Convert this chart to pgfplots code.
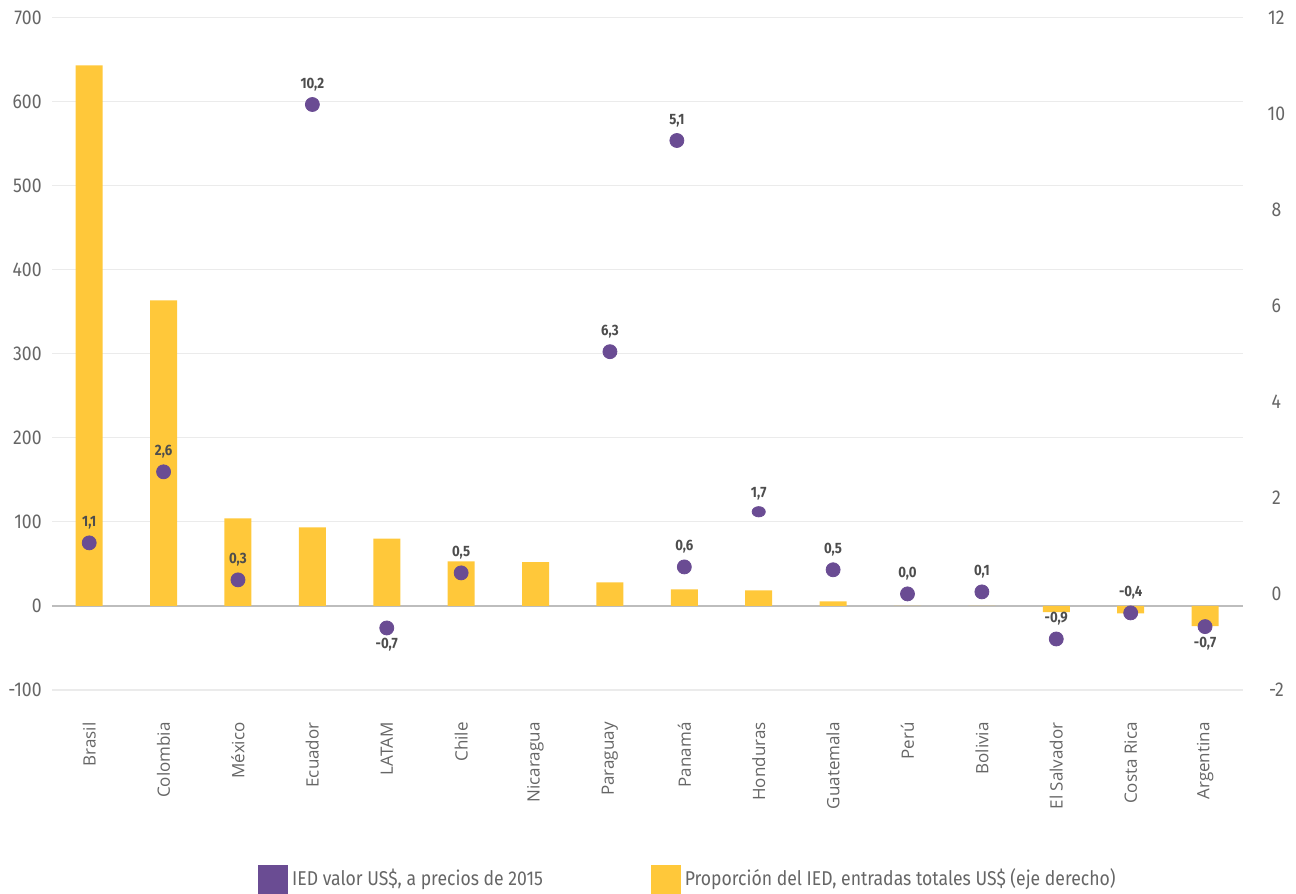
\documentclass[border=0pt]{standalone}
\usepackage{fontspec}
\setmainfont{Open Sans}
\newfontfamily\dinfont{Fira Sans}[FakeStretch=0.88]
\newfontfamily\tickfont{Open Sans}
\usepackage{pgfplots}
\pgfplotsset{compat=1.18}

\definecolor{ied}{HTML}{6A4C93}
\definecolor{prop}{HTML}{FFC83A}
\definecolor{txt}{HTML}{666666}
\definecolor{lab}{HTML}{4D4D4D}
\definecolor{gridc}{HTML}{EBEBEB}
\definecolor{zeroc}{HTML}{BDBDBD}

\begin{document}
\begin{tikzpicture}
\useasboundingbox (-26pt,-102pt) rectangle (622pt,345pt);
\begin{axis}[
  scale only axis, width=595.5pt, height=336.3pt,
  xmin=-0.5, xmax=15.51, ymin=-100, ymax=700,
  axis line style={draw=none}, tick style={draw=none},
  ytick={-100,0,...,700},
  ymajorgrids, grid style={draw=gridc, line width=0.6pt},
  extra y ticks={0}, extra y tick labels={},
  extra y tick style={grid=major, major grid style={draw=zeroc, line width=0.8pt}},
  /pgf/number format/assume math mode=true,
  yticklabel style={font=\dinfont\fontsize{10}{12}\selectfont, color=txt, inner sep=0pt, xshift=-5pt},
  xtick={0,...,15},
  xticklabels={Brasil,Colombia,México,Ecuador,LATAM,Chile,Nicaragua,Paraguay,Panamá,Honduras,Guatemala,Perú,Bolivia,El Salvador,Costa Rica,Argentina},
  xticklabel style={yshift=-16pt, rotate=90, anchor=east, inner sep=0pt, font=\tickfont\fontsize{8.5}{10}\selectfont, color=txt},
  legend columns=2,
  legend style={at={(0.173,-0.281)}, anchor=west, draw=none, fill=none, inner sep=0pt,
    font=\dinfont\fontsize{10}{12}\selectfont, text=txt,
    /tikz/column 2/.style={column sep=52pt}},
  lbl/.style={point meta=explicit symbolic, nodes near coords,
    nodes near coords style={anchor=center, inner sep=0pt,
      font=\dinfont\bfseries\fontsize{7.5}{9}\selectfont, color=lab}},
]
\addlegendimage{legend image code/.code={\fill[ied] (0pt,-7pt) rectangle (14.5pt,7pt);}}
\addlegendentry{IED valor US\$, a precios de 2015}
\addlegendimage{legend image code/.code={\fill[prop] (0pt,-7pt) rectangle (14.5pt,7pt);}}
\addlegendentry{Proporción del IED, entradas totales US\$ (eje derecho)}

% bars
\addplot[ybar, bar width=0.363, fill=prop, draw=none, forget plot] coordinates {
  (0,643) (1,363.5) (2,104) (3,93.5) (4,80) (5,53) (6,52) (7,28)
  (8,19.6) (9,18.5) (10,5.4) (11,0) (12,0) (13,-7.4) (14,-9) (15,-24)
};

% dots, label above
\addplot[only marks, mark=*, mark size=3.5pt, color=ied, forget plot, lbl,
  nodes near coords style={yshift=10pt}]
  table[meta=l] {
x y l
0 75 1,1
1 159.5 2,6
2 31 0,3
3 596.4 10,2
5 39.3 0,5
7 302.4 6,3
7.9 553.6 5,1
8 46.4 0,6
10 43 0,5
11 14.3 0,0
12 16.7 0,1
13 -39.3 -0,9
14 -8.3 -0,4
};

% Honduras: slightly flattened dot
\addplot[only marks, mark=*, mark size=3.3pt, mark options={yscale=0.78}, color=ied, forget plot, lbl,
  nodes near coords style={yshift=9pt}]
  table[meta=l] {
x y l
9 112 1,7
};

% dots, label below
\addplot[only marks, mark=*, mark size=3.5pt, color=ied, forget plot, lbl,
  nodes near coords style={yshift=-8.5pt}]
  table[meta=l] {
x y l
4 -26.2 -0,7
15 -24.6 -0,7
};
\end{axis}

\begin{axis}[
  scale only axis, width=595.5pt, height=336.3pt,
  xmin=-0.5, xmax=15.51, ymin=-2, ymax=12,
  hide x axis, ytick pos=right, yticklabel pos=right,
  axis line style={draw=none}, tick style={draw=none},
  ytick={-2,0,...,12},
  /pgf/number format/assume math mode=true,
  yticklabel style={font=\dinfont\fontsize{10}{12}\selectfont, color=txt,
    anchor=west, inner sep=0pt, text width=33pt, align=center},
]
\addplot[draw=none] coordinates {(0,0)};
\end{axis}
\end{tikzpicture}
\end{document}
